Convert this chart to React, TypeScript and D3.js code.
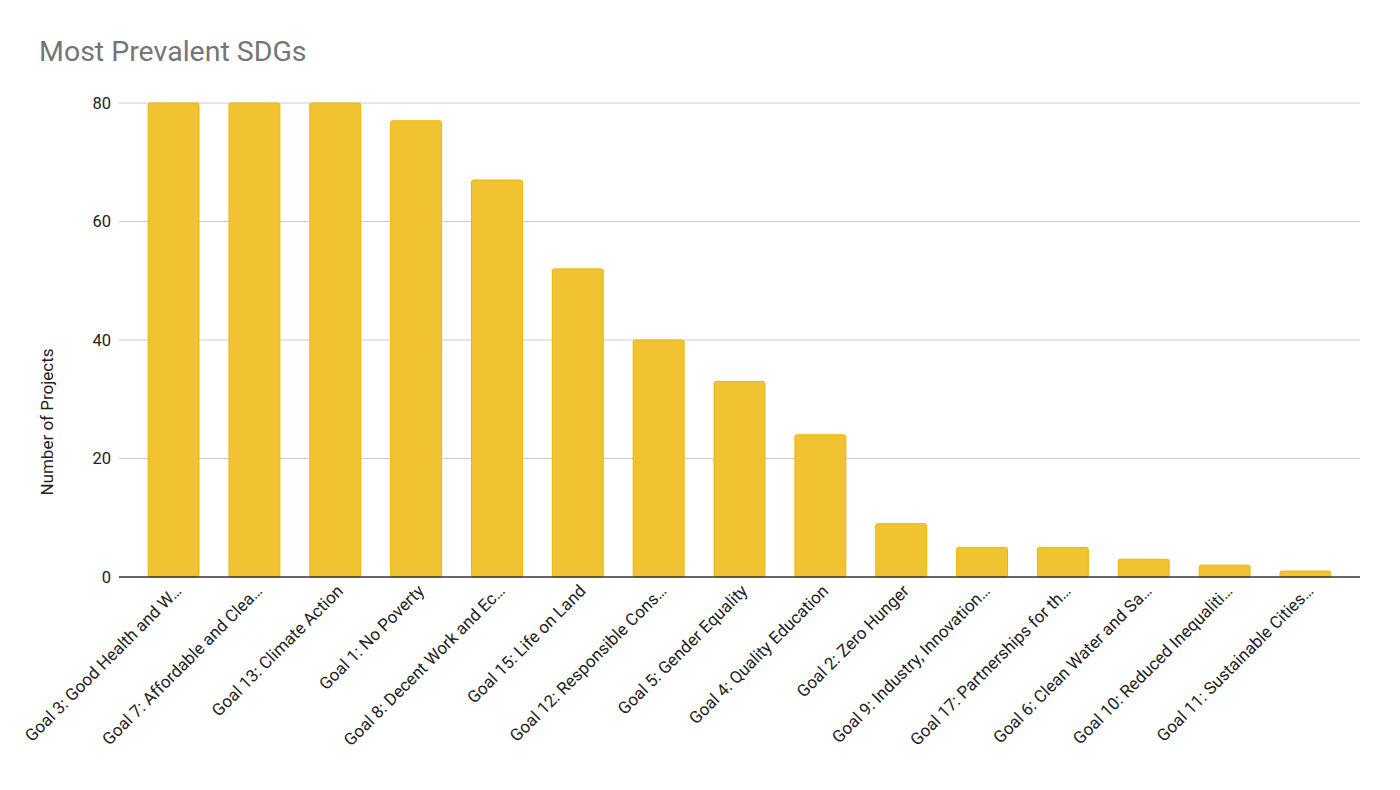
import React from "react";
import * as d3 from "d3";

const categories = [
  "Goal 3: Good Health and W…",
  "Goal 7: Affordable and Clea…",
  "Goal 13: Climate Action",
  "Goal 1: No Poverty",
  "Goal 8: Decent Work and Ec…",
  "Goal 15: Life on Land",
  "Goal 12: Responsible Cons…",
  "Goal 5: Gender Equality",
  "Goal 4: Quality Education",
  "Goal 2: Zero Hunger",
  "Goal 9: Industry, Innovation…",
  "Goal 17: Partnerships for th…",
  "Goal 6: Clean Water and Sa…",
  "Goal 10: Reduced Inequaliti…",
  "Goal 11: Sustainable Cities…",
];
const values = [80, 80, 80, 77, 67, 52, 40, 33, 24, 9, 5, 5, 3, 2, 1];
const yTicks = [0, 20, 40, 60, 80];

export default function App() {
  const W = 1400, H = 790;
  const left = 119, right = 1360, top = 103, bottom = 577;
  const x = d3.scaleBand<string>().domain(categories).range([left, right]).paddingInner(0.37).paddingOuter(0.36);
  const y = d3.scaleLinear().domain([0, 80]).range([bottom, top]);
  const font = "Roboto, Arial, sans-serif";
  return (
    <svg width={W} height={H} style={{ position: "absolute", left: 0, top: 0 }} fontFamily={font}>
      <rect width={W} height={H} fill="#fff" />
      <text x={39} y={61} fontSize={28.5} fill="#757575">Most Prevalent SDGs</text>
      {yTicks.map((t) => (
        <g key={t}>
          {t !== 0 && <line x1={left} x2={right} y1={y(t)} y2={y(t)} stroke="#cccccc" strokeWidth={1} />}
          <text x={111} y={y(t)} dy="0.35em" textAnchor="end" fontSize={16.5} fill="#222">{t}</text>
        </g>
      ))}
      <text transform={`translate(53,422) rotate(-90)`} textAnchor="middle" fontSize={17} fill="#222">Number of Projects</text>
      {categories.map((c, i) => (
        <rect key={c} x={x(c)!} y={y(values[i])} width={x.bandwidth()} height={bottom - y(values[i])}
          fill="#f1c232" stroke="#efb600" strokeWidth={1} rx={2} />
      ))}
      <line x1={left} x2={right} y1={bottom} y2={bottom} stroke="#333" strokeWidth={1.5} />
      {categories.map((c) => {
        const cx = x(c)! + x.bandwidth() / 2 + 9;
        return (
          <text key={c} transform={`translate(${cx},${592}) rotate(-45)`} textAnchor="end" fontSize={17} fill="#222">{c}</text>
        );
      })}
    </svg>
  );
}
